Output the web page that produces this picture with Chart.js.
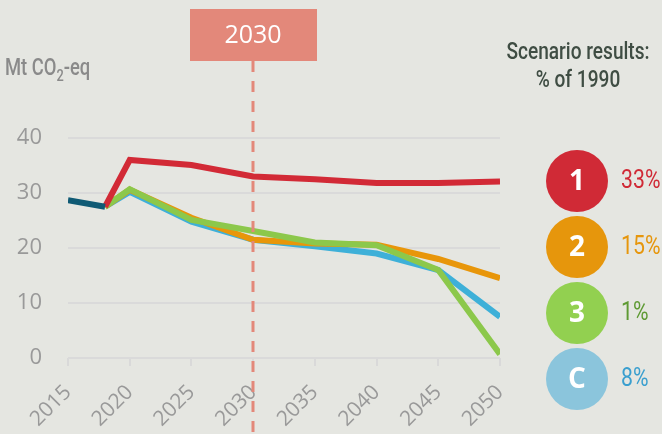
<!DOCTYPE html>
<html>
<head>
<meta charset="utf-8">
<script src="https://cdn.jsdelivr.net/npm/chart.js@4/dist/chart.umd.min.js"></script>
<style>
  html, body { margin: 0; padding: 0; background: #e5e6e1; }
  #wrap { width: 662px; height: 434px; position: relative; }
</style>
</head>
<body>
<div id="wrap"><canvas id="chart" width="662" height="434"></canvas></div>
<script>
// data (Mt CO2-eq)
const historyYears = [2015, 2018];
const historyValues = [28.7, 27.5];
const scenarioYears = [2018, 2020, 2025, 2030, 2035, 2040, 2045, 2050];
const scenario1 = [27.5, 36.0, 35.1, 33.0, 32.5, 31.8, 31.8, 32.1];
const scenario2 = [27.5, 30.6, 25.5, 21.5, 20.8, 20.6, 18.0, 14.5];
const scenario3 = [27.5, 30.7, 25.1, 23.1, 21.0, 20.5, 16.0, 0.7];
const scenarioC = [27.5, 30.2, 24.8, 21.5, 20.3, 19.0, 16.0, 7.5];

const legendNames = ['1', '2', '3', 'C'];
const legendPercents = ['33%', '15%', '1%', '8%'];
const circleColors = ['#d02a36', '#e6960c', '#92d050', '#8bc5dc'];
const percentColors = ['#d02a36', '#e6960c', '#5e9a33', '#3a9fcf'];

function pts(xs, ys) {
  return xs.map((x, i) => ({ x: x, y: ys[i] }));
}

const markerYear = 2030;
const salmon = '#e3887a';
const narrow = '"Roboto", "Liberation Sans", sans-serif';

// no narrow font installed, so squeeze the text horizontally
function narrowText(ctx, text, x, y, align, font, sx) {
  ctx.save();
  ctx.font = font;
  ctx.textAlign = align;
  ctx.translate(x, y);
  ctx.scale(sx, 1);
  ctx.fillText(text, 0, 0);
  const w = ctx.measureText(text).width * sx;
  ctx.restore();
  return w;
}

const overlay = {
  id: 'overlay',
  afterDatasetsDraw(chart) {
    const ctx = chart.ctx;
    const xs = chart.scales.x;
    const mx = Math.round(xs.getPixelForValue(markerYear));
    ctx.save();
    // dashed 2030 line
    ctx.strokeStyle = salmon;
    ctx.lineWidth = 3;
    ctx.setLineDash([11, 9]);
    ctx.beginPath();
    ctx.moveTo(mx, 61);
    ctx.lineTo(mx, 434);
    ctx.stroke();
    ctx.setLineDash([]);
    // 2030 box
    ctx.fillStyle = salmon;
    ctx.fillRect(mx - 63, 9, 127, 52);
    ctx.fillStyle = '#ffffff';
    ctx.font = '500 25px "Open Sans", sans-serif';
    ctx.textAlign = 'center';
    ctx.textBaseline = 'middle';
    ctx.fillText(String(markerYear), mx, 36);

    // axis unit
    ctx.fillStyle = '#8a8a8a';
    ctx.textBaseline = 'alphabetic';
    let x = 5;
    x += narrowText(ctx, 'Mt CO', x, 75, 'left', '500 23px ' + narrow, 0.8);
    x += narrowText(ctx, '2', x, 81, 'left', '500 16px ' + narrow, 0.8);
    narrowText(ctx, '-eq', x, 75, 'left', '500 23px ' + narrow, 0.8);

    // legend title
    ctx.fillStyle = '#3f4d43';
    narrowText(ctx, 'Scenario results:', 578, 59, 'center', '500 23px ' + narrow, 0.83);
    narrowText(ctx, '% of 1990', 578, 87, 'center', '500 23px ' + narrow, 0.83);

    // scenario circles
    ctx.textBaseline = 'middle';
    legendNames.forEach((name, i) => {
      const cy = 181 + i * 66;
      ctx.fillStyle = circleColors[i];
      ctx.beginPath();
      ctx.arc(577, cy, 31, 0, Math.PI * 2);
      ctx.fill();
      ctx.fillStyle = '#ffffff';
      ctx.textAlign = 'center';
      ctx.font = 'bold 28px "Open Sans", sans-serif';
      ctx.fillText(name, 577, cy + 1);
      ctx.fillStyle = percentColors[i];
      narrowText(ctx, legendPercents[i], 621, cy + 1, 'left', '25px ' + narrow, 0.85);
    });
    ctx.restore();
  }
};

const lineW = 6;
new Chart(document.getElementById('chart'), {
  type: 'line',
  data: {
    datasets: [
      { label: 'History', data: pts(historyYears, historyValues), borderColor: '#0f5a74' },
      { label: 'Scenario 1', data: pts(scenarioYears, scenario1), borderColor: '#d22a36' },
      { label: 'Scenario 3', data: pts(scenarioYears, scenario3), borderColor: '#8cc84b' },
      { label: 'Scenario 2', data: pts(scenarioYears, scenario2), borderColor: '#e8960a' },
      { label: 'Scenario C', data: pts(scenarioYears, scenarioC), borderColor: '#3eb0d8' }
    ].map(d => Object.assign(d, { borderWidth: lineW, pointRadius: 0, tension: 0, fill: false }))
  },
  options: {
    responsive: false,
    animation: false,
    events: [],
    layout: { padding: { top: 138, right: 162, left: 0, bottom: 0 } },
    plugins: { legend: { display: false }, tooltip: { enabled: false } },
    scales: {
      x: {
        type: 'linear',
        min: 2015,
        max: 2050,
        ticks: {
          stepSize: 5,
          maxRotation: 45,
          minRotation: 45,
          color: '#999999',
          font: { family: '"Open Sans", sans-serif', size: 21 },
          callback: v => String(v),
          padding: 14
        },
        grid: { drawOnChartArea: false, drawTicks: true, tickLength: 8, color: '#d9d9d9', lineWidth: 2 },
        border: { display: false },
        afterFit(scale) { scale.height = 76; }
      },
      y: {
        min: 0,
        max: 40,
        ticks: {
          stepSize: 10,
          color: '#999999',
          font: { family: '"Open Sans", sans-serif', size: 22 },
          padding: 26
        },
        grid: { color: '#dadada', lineWidth: 2, drawTicks: false },
        border: { display: false },
        afterFit(scale) { scale.width = 68; }
      }
    }
  },
  plugins: [overlay]
});
</script>
</body>
</html>
